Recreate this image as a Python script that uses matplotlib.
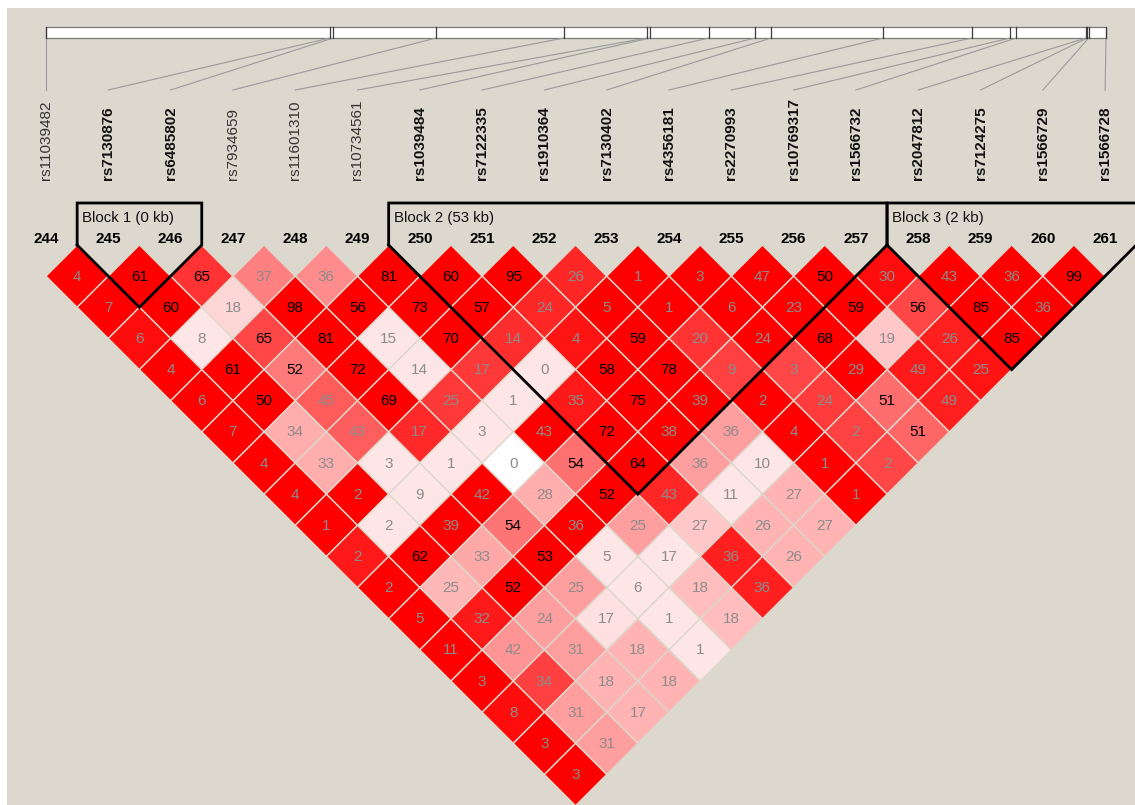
import matplotlib
matplotlib.use("Agg")
import matplotlib.pyplot as plt
from matplotlib.patches import Polygon, Rectangle

# ---------------- data ----------------
snp_ids = ["rs11039482", "rs7130876", "rs6485802", "rs7934659", "rs11601310",
           "rs10734561", "rs1039484", "rs7122335", "rs1910364", "rs7130402",
           "rs4356181", "rs2270993", "rs10769317", "rs1566732", "rs2047812",
           "rs7124275", "rs1566729", "rs1566728"]
snp_numbers = list(range(244, 262))
snp_pos_kb = [0.0, 41.1, 41.6, 56.5, 75.0, 87.0, 87.5, 96.0, 102.7, 105.0,
              121.2, 134.1, 139.6, 140.5, 150.6, 150.8, 151.0, 153.5]
bold_snps = [False, True, True, False, False, False] + [True] * 12

# blocks: (first SNP index, last SNP index, label)
block_first = [1, 6, 14]
block_last = [2, 13, 17]
block_labels = ["Block 1 (0 kb)", "Block 2 (53 kb)", "Block 3 (2 kb)"]

# r^2 x100 values by diagonal (row k = pairs i, i+k)
r2_rows = [
    [4, 61, 65, 37, 36, 81, 60, 95, 26, 1, 3, 47, 50, 30, 43, 36, 99],
    [7, 60, 18, 98, 56, 73, 57, 24, 5, 1, 6, 23, 59, 56, 85, 36],
    [6, 8, 65, 81, 15, 70, 14, 4, 59, 20, 24, 68, 19, 26, 85],
    [4, 61, 52, 72, 14, 17, 0, 58, 78, 9, 3, 29, 49, 25],
    [6, 50, 45, 69, 25, 1, 35, 75, 39, 2, 24, 51, 49],
    [7, 34, 43, 17, 3, 43, 72, 38, 36, 4, 2, 51],
    [4, 33, 3, 1, 0, 54, 64, 36, 10, 1, 2],
    [4, 2, 9, 42, 28, 52, 43, 11, 27, 1],
    [1, 2, 39, 54, 36, 25, 27, 26, 27],
    [2, 62, 33, 53, 5, 17, 36, 26],
    [2, 25, 52, 25, 6, 18, 36],
    [5, 32, 24, 17, 1, 18],
    [11, 42, 31, 18, 1],
    [3, 34, 18, 18],
    [8, 31, 17],
    [3, 31],
    [3],
]

# colour intensity (D'-like shading, 0 = white, 1 = full red) by diagonal
shade_rows = [
    [1.0, 1.0, 0.80, 0.50, 0.45, 1.0, 1.0, 1.0, 0.85, 1.0, 1.0, 1.0, 1.0, 0.95, 1.0, 1.0, 1.0],
    [1.0, 1.0, 0.16, 1.0, 1.0, 1.0, 1.0, 0.85, 1.0, 1.0, 1.0, 1.0, 1.0, 0.72, 1.0, 1.0],
    [0.95, 0.10, 0.72, 1.0, 0.10, 1.0, 0.82, 0.92, 1.0, 0.80, 1.0, 1.0, 0.22, 0.88, 1.0],
    [1.0, 1.0, 0.52, 1.0, 0.10, 0.78, 0.10, 1.0, 1.0, 0.75, 0.72, 1.0, 0.90, 0.92],
    [1.0, 1.0, 0.64, 1.0, 0.78, 0.10, 0.90, 1.0, 1.0, 1.0, 0.77, 0.57, 0.88],
    [1.0, 0.32, 0.63, 0.84, 0.10, 1.0, 1.0, 1.0, 0.38, 1.0, 0.74, 0.60],
    [1.0, 0.32, 0.10, 0.10, 0.0, 0.56, 1.0, 0.38, 0.10, 1.0, 0.72],
    [1.0, 1.0, 0.10, 1.0, 0.32, 1.0, 0.85, 0.10, 0.30, 1.0],
    [1.0, 0.10, 1.0, 0.54, 1.0, 0.38, 0.22, 0.30, 0.30],
    [0.90, 1.0, 0.34, 1.0, 0.10, 0.10, 0.88, 0.30],
    [1.0, 0.28, 1.0, 0.38, 0.10, 0.26, 0.88],
    [1.0, 0.90, 0.38, 0.12, 0.10, 0.26],
    [1.0, 0.42, 0.38, 0.30, 0.10],
    [1.0, 0.75, 0.30, 0.30],
    [0.95, 0.38, 0.30],
    [1.0, 0.38],
    [1.0],
]

# ---------------- layout / style ----------------
W, H = 1135, 805
x0, step = 46.0, 62.3
half = step / 2.0
tri_top = 245.0
bar_top, bar_bot = 27.0, 38.0
bar_left, bar_right = 46.0, 1106.0
line_end_y = 90.0
label_base_y = 180.0
num_label_y = 239.0
block_top_y = 203.0
bg = "#dcd8ce"
FONT = ["Liberation Sans", "DejaVu Sans"]

fig = plt.figure(figsize=(W / 100, H / 100), dpi=100)
fig.patch.set_facecolor("white")
ax = fig.add_axes([0, 0, 1, 1])
ax.set_xlim(0, W)
ax.set_ylim(H, 0)
ax.axis("off")

ax.add_patch(Rectangle((7, 8), W, H, facecolor=bg, edgecolor="none", zorder=0))

n = len(snp_ids)
snp_x = [x0 + i * step for i in range(n)]
span = snp_pos_kb[-1] - snp_pos_kb[0]
pos_px = [bar_left + (p - snp_pos_kb[0]) / span * (bar_right - bar_left) for p in snp_pos_kb]

# physical map bar
ax.add_patch(Rectangle((bar_left, bar_top), bar_right - bar_left, bar_bot - bar_top,
                       facecolor="white", edgecolor="#7a7a7a", lw=0.9, zorder=2))
for p in pos_px:
    ax.plot([p, p], [bar_top, bar_bot], color="#3c3c3c", lw=0.9, zorder=3)
for p, sx in zip(pos_px, snp_x):
    ax.plot([p, sx], [bar_bot, line_end_y], color="#9a9a9a", lw=0.8, zorder=2)

# SNP names
for sx, name, b in zip(snp_x, snp_ids, bold_snps):
    ax.text(sx, label_base_y, name, rotation=90, ha="center", va="bottom",
            fontsize=11, fontweight="bold" if b else "normal",
            color="#111111" if b else "#333333", family=FONT, zorder=4)

# SNP numbers
for sx, num in zip(snp_x, snp_numbers):
    ax.text(sx, num_label_y, str(num), ha="center", va="center", fontsize=11,
            fontweight="bold", color="black", family=FONT, zorder=4)


def red(s):
    g = 255 * (1 - s)
    return (1.0, g / 255.0, g / 255.0)


# LD diamonds
for k, (vals, shades) in enumerate(zip(r2_rows, shade_rows), start=1):
    for i, (v, s) in enumerate(zip(vals, shades)):
        j = i + k
        cx = (snp_x[i] + snp_x[j]) / 2
        cy = tri_top + k * half
        poly = Polygon([(cx, cy - half), (cx + half, cy), (cx, cy + half), (cx - half, cy)],
                       closed=True, facecolor=red(s), edgecolor="#dcd8cc", lw=1.0, zorder=1)
        ax.add_patch(poly)
        ax.text(cx, cy + 0.5, str(v), ha="center", va="center", fontsize=11,
                color="black" if v >= 50 else "#8c8c8c", family=FONT, zorder=5)

# block outlines
for a, b, lab in zip(block_first, block_last, block_labels):
    left = snp_x[a] - half
    right = snp_x[b] + half
    apex_x = (snp_x[a] + snp_x[b]) / 2
    apex_y = tri_top + (b - a + 1) * half
    ax.plot([left, left, right, right, apex_x, left],
            [tri_top, block_top_y, block_top_y, tri_top, apex_y, tri_top],
            color="black", lw=2.0, solid_joinstyle="miter", zorder=6)
    ax.text(left + 5, block_top_y + 15, lab, ha="left", va="center", fontsize=10.8,
            color="#111111", family=FONT, zorder=6)

fig.savefig("out.png", dpi=100, facecolor="white")
